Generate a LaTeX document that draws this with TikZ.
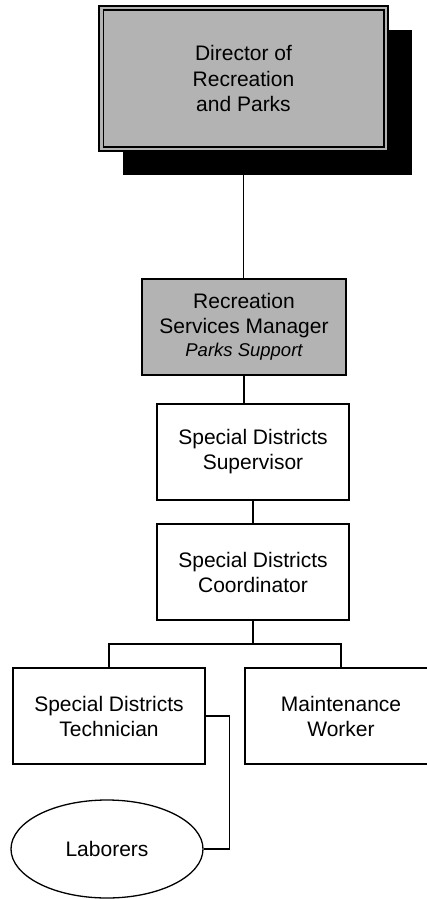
\documentclass[tikz,border=0pt]{standalone}
\usepackage{fontspec}
\setmainfont{Liberation Sans}
\usetikzlibrary{shapes.geometric,shadows}
\definecolor{boxgray}{RGB}{179,179,179}
\begin{document}
\begin{tikzpicture}[x=1pt,y=-1pt,
  line width=1.3pt,
  orgbox/.style={draw, line width=1.3pt, minimum width=192pt, minimum height=96pt, inner sep=0pt, align=center, font=\fontsize{21}{25}\selectfont},
  conn/.style={draw, line width=1.3pt}]
\useasboundingbox (0,0) rectangle (427,899);
\clip (0,0) rectangle (427,899);
\node[orgbox, fill=boxgray, minimum width=289pt, minimum height=145pt, line width=1.5pt,
      general shadow={shadow xshift=24pt, shadow yshift=-24pt, fill=black},
      font=\fontsize{21}{25.5}\selectfont] (dir) at (243.5,78.5) {Director of\\Recreation\\and Parks};
\draw[line width=1.5pt] ([xshift=5pt,yshift=-5pt]dir.north west) rectangle ([xshift=-5pt,yshift=5pt]dir.south east);
\node[orgbox, fill=boxgray, minimum width=204pt] (rsm) at (244,327) {Recreation\\Services Manager\\[-2pt]{\fontsize{18.5}{23}\selectfont\itshape Parks Support}};
\node[orgbox] (sup) at (253,452) {Special Districts\\Supervisor};
\node[orgbox] (coord) at (253,572) {Special Districts\\Coordinator};
\node[orgbox] (tech) at (109,716) {Special Districts\\Technician};
\node[orgbox] (maint) at (341,716) {Maintenance\\Worker};
\node[draw, ellipse, line width=1.3pt, minimum width=192pt, minimum height=98pt, inner sep=0pt, font=\fontsize{21}{25}\selectfont] (lab) at (107,849) {Laborers};
\coordinate (bus) at (253,644);
\draw[conn] (dir.south) -- (dir.south |- rsm.north);
\draw[conn] (rsm.south) -- (rsm.south |- sup.north);
\draw[conn] (sup.south) -- (coord.north);
\draw[conn] (coord.south) -- (bus) -| (tech.north);
\draw[conn] (bus) -| (maint.north);
\draw[conn] (tech.east) -- ++(24,0) |- (lab.east);
\end{tikzpicture}
\end{document}
